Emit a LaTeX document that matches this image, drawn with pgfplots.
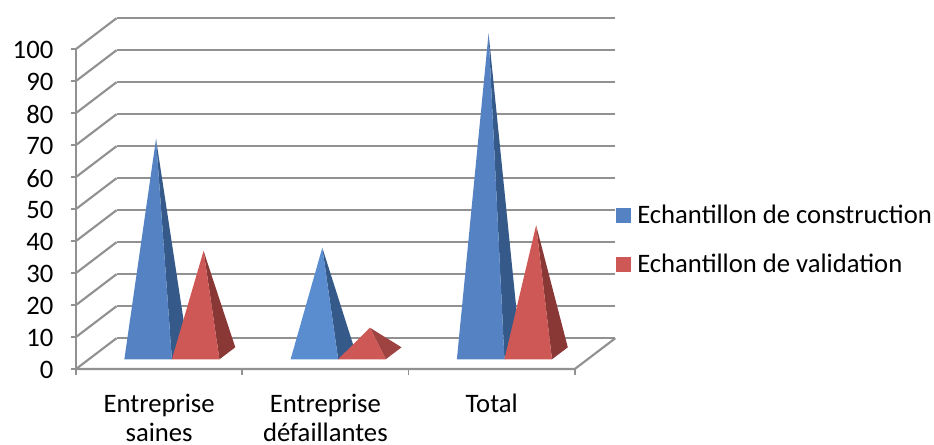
\documentclass[border=0pt]{standalone}
\usepackage{fontspec}
\setmainfont{Carlito}
\usepackage{pgfplots}
\pgfplotsset{compat=1.18}
\definecolor{wall}{RGB}{145,145,145}
\definecolor{blueF}{RGB}{84,130,194}
\definecolor{blueL}{RGB}{90,141,208}
\definecolor{blueS}{RGB}{53,90,138}
\definecolor{redF}{RGB}{206,88,85}
\definecolor{redS}{RGB}{138,56,54}
\definecolor{redT}{RGB}{158,67,65}
\begin{document}
\begin{tikzpicture}
\path[use as bounding box] (0pt,0pt) rectangle (700.5pt,-333pt);
\begin{axis}[
  at={(57pt,-276.75pt)}, anchor=origin,
  x={(124.7pt,0pt)}, y={(30.4pt,23.1pt)}, z={(0pt,2.4pt)},
  xmin=0, xmax=3, ymin=0, ymax=1, zmin=0, zmax=100,
  clip=false,
  axis line style={draw=none},
  xtick={0.5,1.5,2.5},
  xticklabels={{Entreprise\\saines},{Entreprise\\défaillantes},{Total}},
  ytick=\empty,
  ztick={0,10,...,100},
  zmajorgrids,
  major grid style={wall, line width=1.6pt},
  major tick length=0pt,
  tick style={draw=none},
  xtick pos=left, ztick pos=left,
  tick label style={font=\fontsize{20}{22}\selectfont, align=center, black},
  xticklabel style={anchor=north, yshift=-18.5pt, inner ysep=0pt},
  zticklabel style={anchor=east, xshift=-13.5pt, yshift=-1pt},
  /pgf/number format/assume math mode=true,
  legend cell align=left,
  legend style={draw=none, fill=none, font=\fontsize{20}{22.5}\selectfont,
    at={(1.0,0.365)}, anchor=west, row sep=17.3pt, inner sep=0pt, yshift=0.7pt,
    /tikz/every odd column/.style={column sep=3pt}},
  legend image code/.code={\fill[#1] (0pt,-5.6pt) rectangle (11.25pt,5.6pt);},
]
% floor edges and the front vertical edge
\addplot3[wall, line width=1.6pt, forget plot] coordinates {(0,0,0) (3,0,0) (3,1,0)};
\addplot3[wall, line width=1.6pt, forget plot] coordinates {(0,0,0) (0,0,100)};

% tick marks along the front edges
\pgfplotsinvokeforeach{0,1,2,3}{
  \addplot3[wall, line width=1.3pt, forget plot] coordinates {(#1,0,0) (#1,0,-2)};
}
\pgfplotsinvokeforeach{0,10,...,100}{
  \addplot3[wall, line width=1.3pt, forget plot] coordinates {(0,0,#1) (-0.03,0,#1)};
}

% Entreprise saines
\addplot3[fill=blueS, draw=none, forget plot] coordinates {(0.5,0.315,0) (0.5,0.705,0) (0.357,0.51,67)} -- cycle;
\addplot3[fill=blueF, draw=none, forget plot] coordinates {(0.214,0.315,0) (0.5,0.315,0) (0.357,0.51,67)} -- cycle;
\addplot3[fill=redS, draw=none, forget plot] coordinates {(0.786,0.315,0) (0.786,0.705,0) (0.643,0.51,32)} -- cycle;
\addplot3[fill=redF, draw=none, forget plot] coordinates {(0.5,0.315,0) (0.786,0.315,0) (0.643,0.51,32)} -- cycle;
% Entreprise défaillantes
\addplot3[fill=blueS, draw=none, forget plot] coordinates {(1.5,0.315,0) (1.5,0.705,0) (1.357,0.51,33)} -- cycle;
\addplot3[fill=blueL, draw=none, forget plot] coordinates {(1.214,0.315,0) (1.5,0.315,0) (1.357,0.51,33)} -- cycle;
\addplot3[fill=redT, draw=none, forget plot] coordinates {(1.786,0.315,0) (1.786,0.705,0) (1.643,0.51,8)} -- cycle;
\addplot3[fill=redF, draw=none, forget plot] coordinates {(1.5,0.315,0) (1.786,0.315,0) (1.643,0.51,8)} -- cycle;
% Total
\addplot3[fill=blueS, draw=none, forget plot] coordinates {(2.5,0.315,0) (2.5,0.705,0) (2.357,0.51,100)} -- cycle;
\addplot3[fill=blueF, draw=none, forget plot] coordinates {(2.214,0.315,0) (2.5,0.315,0) (2.357,0.51,100)} -- cycle;
\addplot3[fill=redS, draw=none, forget plot] coordinates {(2.786,0.315,0) (2.786,0.705,0) (2.643,0.51,40)} -- cycle;
\addplot3[fill=redF, draw=none, forget plot] coordinates {(2.5,0.315,0) (2.786,0.315,0) (2.643,0.51,40)} -- cycle;

\addlegendimage{fill=blueF, draw=none}
\addlegendentry{Echantillon de construction}
\addlegendimage{fill=redF, draw=none}
\addlegendentry{Echantillon de validation}
\end{axis}
\end{tikzpicture}
\end{document}
